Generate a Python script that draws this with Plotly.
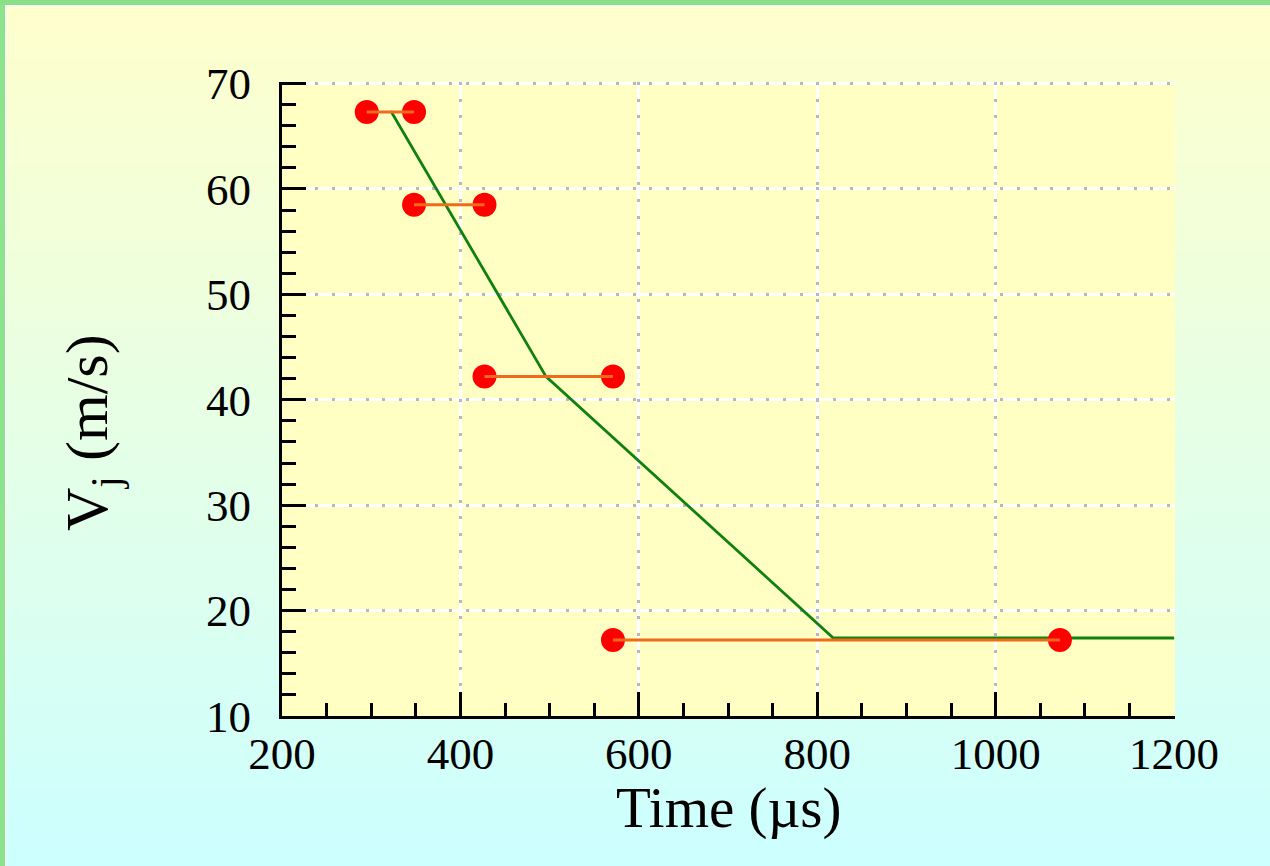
import plotly.graph_objects as go

# ---- data ----
seg_x_start = [295, 348, 427, 571]
seg_x_end = [348, 427, 571, 1072]
seg_y = [67.3, 58.5, 42.2, 17.2]

fit_x = [322, 496, 818, 1200]
fit_y = [67.4, 42.2, 17.4, 17.4]

x_range = [200, 1201]
y_range = [10, 70.15]

x_title = "Time (µs)"
y_title = "V<sub>j</sub> (m/s)"

# ---- geometry ----
W, H = 1270, 866
ML, MR, MT, MB = 282, 95, 82, 150
PW, PH = W - ML - MR, H - MT - MB


def px2paper_x(px):
    return (px - ML) / PW


def px2paper_y(py):
    return (H - MB - py) / PH


fig = go.Figure()

# green fit line
fig.add_trace(go.Scatter(x=fit_x, y=fit_y, mode="lines",
                         line=dict(color="#108010", width=2.8),
                         showlegend=False, hoverinfo="skip"))

# markers
mx, my = [], []
for a, b, y in zip(seg_x_start, seg_x_end, seg_y):
    mx += [a, b]
    my += [y, y]
fig.add_trace(go.Scatter(x=mx, y=my, mode="markers",
                         marker=dict(color="#FF0000", size=24, line=dict(width=0)),
                         showlegend=False))

# orange segments
ox, oy = [], []
for a, b, y in zip(seg_x_start, seg_x_end, seg_y):
    ox += [a, b, None]
    oy += [y, y, None]
fig.add_trace(go.Scatter(x=ox, y=oy, mode="lines",
                         line=dict(color="#F06A1A", width=3),
                         showlegend=False, hoverinfo="skip"))

# invisible trace for overlay axes (dotted grid)
fig.add_trace(go.Scatter(x=[x_range[0]], y=[y_range[0]], xaxis="x2", yaxis="y2",
                         mode="markers", marker=dict(opacity=0), showlegend=False,
                         hoverinfo="skip"))

# ---- background gradient ----
shapes = []
N = 90
top = (255, 255, 204)
bot = (204, 255, 255)
for i in range(N):
    t = (i + 0.5) / N
    c = tuple(round(top[k] + (bot[k] - top[k]) * t) for k in range(3))
    y0 = H * i / N
    y1 = H * (i + 1) / N + 1
    shapes.append(dict(type="rect", xref="paper", yref="paper", layer="below",
                       x0=px2paper_x(0), x1=px2paper_x(W),
                       y0=px2paper_y(y1), y1=px2paper_y(y0),
                       fillcolor="rgb(%d,%d,%d)" % c, line=dict(width=0)))
# borders
shapes.append(dict(type="rect", xref="paper", yref="paper", layer="below",
                   x0=px2paper_x(0), x1=px2paper_x(6.5), y0=px2paper_y(H), y1=px2paper_y(0),
                   fillcolor="white", line=dict(width=0)))
shapes.append(dict(type="rect", xref="paper", yref="paper", layer="below",
                   x0=px2paper_x(0), x1=px2paper_x(W), y0=px2paper_y(6.5), y1=px2paper_y(0),
                   fillcolor="white", line=dict(width=0)))
shapes.append(dict(type="rect", xref="paper", yref="paper", layer="below",
                   x0=px2paper_x(0), x1=px2paper_x(5), y0=px2paper_y(H), y1=px2paper_y(0),
                   fillcolor="#8BE48B", line=dict(width=0)))
shapes.append(dict(type="rect", xref="paper", yref="paper", layer="below",
                   x0=px2paper_x(0), x1=px2paper_x(W), y0=px2paper_y(5), y1=px2paper_y(0),
                   fillcolor="#88E088", line=dict(width=0)))
# plot area background
shapes.append(dict(type="rect", xref="paper", yref="paper", layer="below",
                   x0=0, x1=1, y0=0, y1=1,
                   fillcolor="#FFFFC4", line=dict(width=0)))

tickfont = dict(family="Liberation Serif", size=45, color="black")

fig.update_layout(
    width=W, height=H,
    margin=dict(l=ML, r=MR, t=MT, b=MB, pad=0),
    paper_bgcolor="#E6FFE6",
    plot_bgcolor="#FFFFC4",
    shapes=shapes,
    showlegend=False,
    xaxis=dict(range=x_range, tick0=200, dtick=200, ticks="inside", ticklen=24,
               tickwidth=3, tickcolor="black", showline=True, linewidth=3,
               linecolor="black", showgrid=True, gridcolor="white", gridwidth=3,
               zeroline=False, tickfont=tickfont, ticklabelstandoff=-4,
               minor=dict(ticks="inside", ticklen=13, tickwidth=3, tickcolor="black",
                          dtick=50, showgrid=False)),
    yaxis=dict(range=y_range, tick0=10, dtick=10, ticks="inside", ticklen=24,
               tickwidth=3, tickcolor="black", showline=True, linewidth=3,
               linecolor="black", showgrid=True, gridcolor="white", gridwidth=3,
               zeroline=False, tickfont=tickfont, ticklabelstandoff=19,
               minor=dict(ticks="inside", ticklen=14, tickwidth=3, tickcolor="black",
                          dtick=2, showgrid=False)),
    xaxis2=dict(range=x_range, overlaying="x", tick0=200, dtick=200, showgrid=True,
                gridcolor="#B8B8B8", gridwidth=3, griddash="3px,13.7px",
                showticklabels=False, ticks="", showline=False, zeroline=False),
    yaxis2=dict(range=y_range, overlaying="y", tick0=10, dtick=10, showgrid=True,
                gridcolor="#B8B8B8", gridwidth=3, griddash="3px,13.7px",
                showticklabels=False, ticks="", showline=False, zeroline=False),
    annotations=[
        dict(text=y_title, textangle=-90, showarrow=False,
             xref="paper", yref="paper", x=px2paper_x(91), y=px2paper_y(433),
             xanchor="center", yanchor="middle",
             font=dict(family="Liberation Serif", size=60, color="black")),
        dict(text=x_title, showarrow=False,
             xref="paper", yref="paper", x=0.5, y=px2paper_y(808),
             xanchor="center", yanchor="middle",
             font=dict(family="Liberation Serif", size=57, color="black")),
    ],
)

fig.write_html("out.html", config={"displayModeBar": False},
               post_script="document.body.style.margin='0';document.body.style.overflow='hidden';")
